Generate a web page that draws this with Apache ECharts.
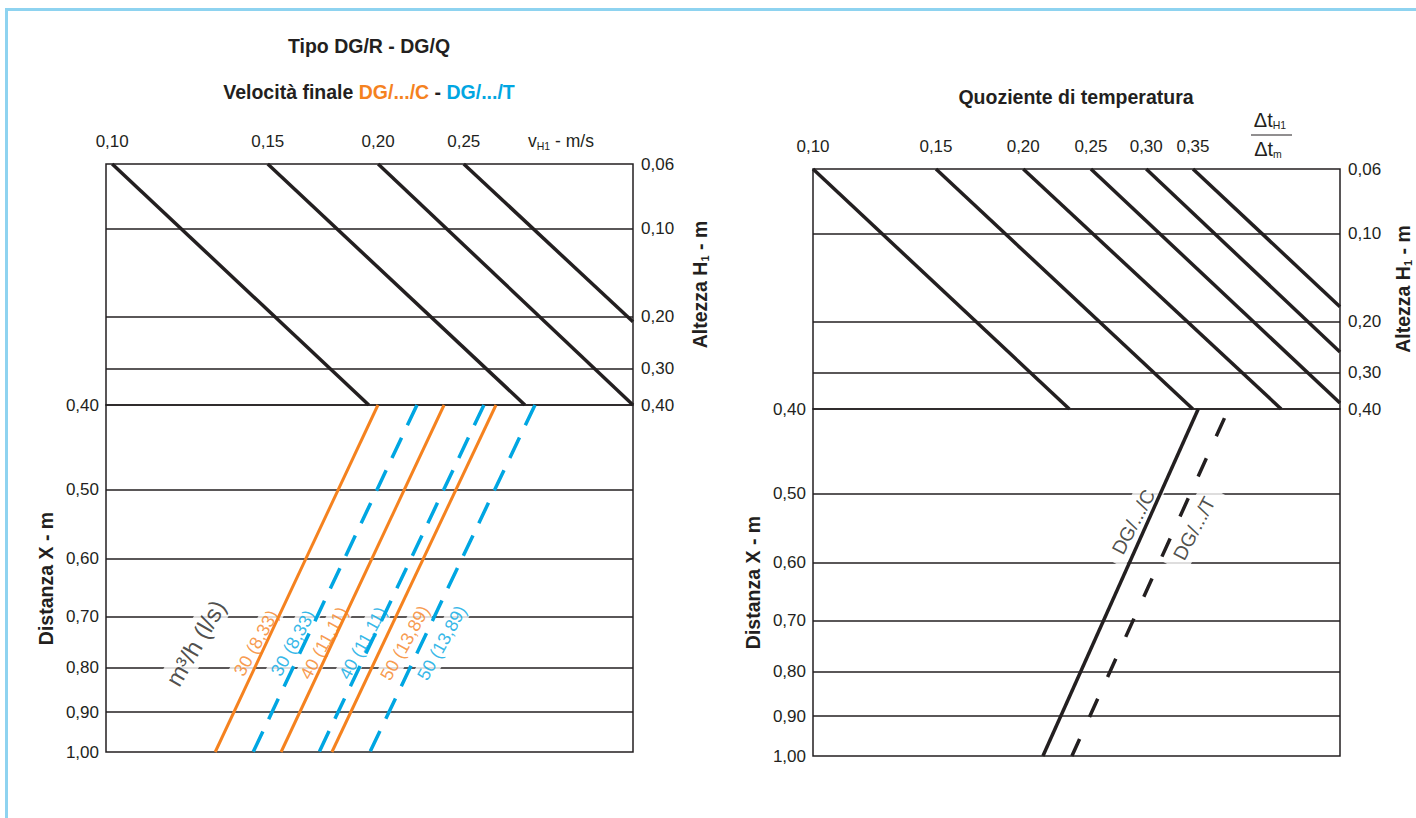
<!DOCTYPE html>
<html><head><meta charset="utf-8">
<script src="https://cdn.jsdelivr.net/npm/echarts@6/dist/echarts.min.js"></script>
<style>
html,body{margin:0;padding:0;background:#fff;}
#chart{position:absolute;left:0;top:0;width:1416px;height:818px;}
#frame{position:absolute;left:5px;top:7.5px;right:0;bottom:0;border-top:3px solid #8ed3f0;border-left:3px solid #8ed3f0;pointer-events:none;}
</style></head><body>
<div id="chart"></div><div id="frame"></div>
<script>
// ---------- data ----------
const hTicks = [0.06, 0.10, 0.20, 0.30, 0.40];            // Altezza H1 - m
const xTicks = [0.40, 0.50, 0.60, 0.70, 0.80, 0.90, 1.00]; // Distanza X - m
const vTicksLeft = [0.10, 0.15, 0.20, 0.25];               // vH1 - m/s
const vTicksRight = [0.10, 0.15, 0.20, 0.25, 0.30, 0.35];  // Δt quotient
const vLeftRange = [0.0984, 0.3886];
const vRightRange = [0.10, 0.5683];
const leftDiagEnds = [[0.1952, 0.40], [0.2932, 0.40], [0.3886, 0.40], [0.3886, 0.2078]];
const rightDiagEnds = [[0.2328, 0.40], [0.3498, 0.40], [0.4681, 0.40], [0.5683, 0.3815], [0.5683, 0.2549], [0.5683, 0.1782]];
const flowNames = ['30 (8,33)', '40 (11,11)', '50 (13,89)'];
const orangeV = [[0.1999, 0.1308], [0.2375, 0.1553], [0.2719, 0.1773]]; // v at X=0.40 / X=1.00
const blueV = [[0.2213, 0.1444], [0.2635, 0.1715], [0.3010, 0.1958]];
const orangeLabelV = [0.1455, 0.1737, 0.2145];
const blueLabelV = [0.1602, 0.1922, 0.2362];
const flowLabelX = 0.75;
const unitLabelPos = [0.1243, 0.75];
const quotC = [[0.3561, 0.40], [0.2134, 1.00]];
const quotT = [[0.3936, 0.40], [0.2348, 1.00]];
const quotLabelC = [0.2874, 0.5387];
const quotLabelT = [0.3512, 0.5481];

// ---------- styles ----------
const INK = '#231f20', ORANGE = '#f5821f', BLUE = '#00a6e2';
const FONT = '"Liberation Sans", Arial, sans-serif';
const fmt = v => Number(v).toFixed(2).replace('.', ',');

const chart = echarts.init(document.getElementById('chart'), null, {renderer: 'svg'});

const gridBase = {show: true, borderColor: INK, borderWidth: 1.5, backgroundColor: 'transparent', containLabel: false};
const grids = [
  Object.assign({left: 106, top: 164, width: 527, height: 241}, gridBase),
  Object.assign({left: 106, top: 405, width: 527, height: 347}, gridBase),
  Object.assign({left: 813, top: 169, width: 527, height: 240}, gridBase),
  Object.assign({left: 813, top: 409, width: 527, height: 347}, gridBase)
];

function xAx(gi, range, ticks) {
  return {
    type: 'log', logBase: 10, gridIndex: gi, min: range[0], max: range[1], position: 'top',
    axisLine: {show: false}, axisTick: {show: false}, splitLine: {show: false},
    axisLabel: ticks ? {show: true, customValues: ticks, formatter: fmt, margin: 14, fontSize: 17, color: INK, fontFamily: FONT}
                     : {show: false}
  };
}
const nameRich = {s: {fontSize: 11, fontWeight: 'bold', fontFamily: FONT, color: INK, verticalAlign: 'bottom', padding: [6, 0, 0, 0]}};
function yAx(gi, lo, hi, ticks, pos, name, gap) {
  return {
    type: 'log', logBase: 10, gridIndex: gi, min: lo, max: hi, inverse: true, position: pos,
    axisLine: {show: false}, axisTick: {show: false}, splitLine: {show: false},
    axisLabel: {show: true, customValues: ticks, formatter: fmt, margin: pos === 'right' ? 8 : 7, fontSize: 17, color: INK, fontFamily: FONT},
    name: name, nameLocation: 'middle', nameGap: gap,
    nameTextStyle: {fontSize: 19.5, fontWeight: 'bold', color: INK, fontFamily: FONT, rich: nameRich}
  };
}

const series = [];
function hLines(xi, yi, vals) {
  series.push({
    type: 'line', xAxisIndex: xi, yAxisIndex: yi, data: [], z: 1, silent: true,
    markLine: {z: 1, symbol: 'none', silent: true, animation: false, label: {show: false},
      lineStyle: {color: INK, width: 1.5, type: 'solid'},
      data: vals.map(v => ({yAxis: v}))}
  });
}
hLines(0, 0, hTicks.slice(1, -1));
hLines(1, 1, xTicks.slice(1, -1));
hLines(2, 2, hTicks.slice(1, -1));
hLines(3, 3, xTicks.slice(1, -1));

function seg(xi, yi, data, color, width, dash, extra) {
  series.push({
    type: 'line', xAxisIndex: xi, yAxisIndex: yi, data: data, symbol: 'none', showSymbol: false,
    silent: true, z: 5, animation: false,
    lineStyle: Object.assign({color: color, width: width, type: dash || 'solid', cap: 'butt'}, extra || {})
  });
}
vTicksLeft.forEach((v, i) => seg(0, 0, [[v, hTicks[0]], leftDiagEnds[i]], INK, 3.5));
vTicksRight.forEach((v, i) => seg(2, 2, [[v, hTicks[0]], rightDiagEnds[i]], INK, 3.5));
orangeV.forEach(p => seg(1, 1, [[p[0], xTicks[0]], [p[1], xTicks[xTicks.length - 1]]], ORANGE, 3));
blueV.forEach(p => seg(1, 1, [[p[0], xTicks[0]], [p[1], xTicks[xTicks.length - 1]]], BLUE, 3.5, [22.5, 13.6]));
seg(3, 3, quotC, INK, 3.5);
seg(3, 3, quotT, INK, 3.5, [20, 24], {dashOffset: 34});

function labels(xi, yi, items, color, size, rot, pad) {
  series.push({
    type: 'scatter', xAxisIndex: xi, yAxisIndex: yi, symbolSize: 1, itemStyle: {color: 'rgba(0,0,0,0)'},
    silent: true, z: 3, animation: false,
    data: items.map(it => ({name: it.name, value: it.value})),
    label: {show: true, position: 'inside', formatter: '{b}', rotate: rot, color: color,
      fontSize: size, fontFamily: FONT, backgroundColor: '#ffffff', padding: pad || [2, 5]}
  });
}
labels(1, 1, flowNames.map((n, i) => ({name: n, value: [orangeLabelV[i], flowLabelX]})), ORANGE, 18, 61);
labels(1, 1, flowNames.map((n, i) => ({name: n, value: [blueLabelV[i], flowLabelX]})), BLUE, 18, 61);
labels(1, 1, [{name: 'm³/h (l/s)', value: unitLabelPos}], INK, 24, 60, [3, 7]);
labels(3, 3, [{name: 'DG/.../C', value: quotLabelC}], INK, 19.5, 62, [4, 10]);
labels(3, 3, [{name: 'DG/.../T', value: quotLabelT}], INK, 19.5, 62, [4, 10]);

function txt(x, y, text, size, weight, rich, align) {
  return {type: 'text', x: x, y: y, silent: true, z: 10,
    style: {text: text, fontSize: size, fontWeight: weight || 'normal', fontFamily: FONT, fill: INK,
      align: align || 'center', verticalAlign: 'middle', textAlign: align || 'center', textVerticalAlign: 'middle', rich: rich || {}}};
}
const sub = (sz) => ({fontSize: sz, fontFamily: FONT, fill: INK, verticalAlign: 'bottom', padding: [9, 0, 0, 0]});

const option = {
  animation: false,
  textStyle: {fontFamily: FONT},
  grid: grids,
  xAxis: [xAx(0, vLeftRange, vTicksLeft), xAx(1, vLeftRange, null), xAx(2, vRightRange, vTicksRight), xAx(3, vRightRange, null)],
  yAxis: [
    yAx(0, hTicks[0], hTicks[hTicks.length - 1], hTicks, 'right', 'Altezza H{s|1} - m', 57),
    yAx(1, xTicks[0], xTicks[xTicks.length - 1], xTicks, 'left', 'Distanza X - m', 50),
    yAx(2, hTicks[0], hTicks[hTicks.length - 1], hTicks, 'right', 'Altezza H{s|1} - m', 53),
    yAx(3, xTicks[0], xTicks[xTicks.length - 1], xTicks, 'left', 'Distanza X - m', 50)
  ],
  series: series,
  graphic: [
    txt(369, 46, 'Tipo DG/R - DG/Q', 19.5, 'bold'),
    txt(369, 92, 'Velocità finale {o|DG/.../C} - {b|DG/.../T}', 19.5, 'bold', {
      o: {fill: ORANGE, fontSize: 19.5, fontWeight: 'bold', fontFamily: FONT},
      b: {fill: BLUE, fontSize: 19.5, fontWeight: 'bold', fontFamily: FONT}}),
    txt(1076, 97, 'Quoziente di temperatura', 19.5, 'bold'),
    txt(528, 141, 'v{s|H1} - m/s', 17.5, 'normal', {s: sub(10.5)}, 'left'),
    txt(1270, 120, 'Δt{s|H1}', 20, 'normal', {s: sub(10.5)}),
    {type: 'line', silent: true, shape: {x1: 1251, y1: 135, x2: 1292, y2: 135}, style: {stroke: INK, lineWidth: 1}},
    txt(1268, 149, 'Δt{s|m}', 20, 'normal', {s: sub(10.5)})
  ]
};
chart.setOption(option);
</script>
</body></html>
